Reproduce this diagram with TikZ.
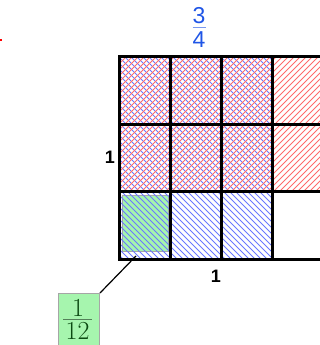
\documentclass[tikz,border=0pt]{standalone}
\usepackage{fontspec}
\setmainfont{Liberation Sans}
\newfontfamily\fracfont{Latin Modern Roman}
\definecolor{hatchred}{HTML}{FF6A6A}
\definecolor{hatchblue}{HTML}{6A78FF}
\definecolor{lightgreen}{HTML}{A6F5AE}
\definecolor{darkgreen}{HTML}{0B4A12}
\definecolor{fracblue}{HTML}{1F55E6}
\tikzset{
  gridline/.style={line width=3pt, line cap=rect},
  redhatch/.style={hatchred, line width=1pt},
  bluehatch/.style={hatchblue, line width=1pt},
  greencell/.style={fill=lightgreen, draw=gray!70, line width=1pt, inner sep=0pt, anchor=south west},
  fracbox/.style={fill=lightgreen, draw=gray!70, line width=1pt, anchor=north west, inner sep=0pt, minimum width=41pt, minimum height=60pt},
  greentext/.style={text=darkgreen, font=\fracfont\fontsize{26}{28}\selectfont, inner sep=0pt},
  bluetext/.style={text=fracblue, font=\fontsize{23}{25}\selectfont, inner sep=0pt},
  sidelabel/.style={font=\bfseries\fontsize{18}{20}\selectfont, inner sep=0pt}
}
\begin{document}
\begin{tikzpicture}[x=1pt,y=1pt]
\clip (0,0) rectangle (320,345);
\fill[red] (0,304) rectangle (1.5,306);
% green 1/12 cell
\node[greencell, minimum width=46pt, minimum height=56pt] (g) at (122,93) {};
% blue hatch: 3/4 of width, full height
\begin{scope}
\clip (119,85) rectangle (272,288);
\foreach \k in {0,...,65} {
  \draw[bluehatch] ({119-210+\k*6},288) -- ++(210,-210);
}
\end{scope}
% red hatch: 2/3 of height, full width
\begin{scope}
\clip (119,153) rectangle (330,288);
\foreach \k in {0,...,60} {
  \draw[redhatch] ({119-140+\k*6},153) -- ++(140,140);
}
\end{scope}
% label box and connector
\node[fracbox] (f) at (58,52) {};
\node[greentext] (fn) at (78,37) {1};
\node[greentext] (fd) at (77.5,14) {12};
\draw[darkgreen!70, line width=0.7pt] (63,26) -- (92,26);
\coordinate (tip) at (136,89);
\draw[line width=1.2pt] (f.north east) -- (tip);
% grid
\draw[gridline] (119,85) -- (119,288);
\draw[gridline] (170,85) -- (170,288);
\draw[gridline] (221,85) -- (221,288);
\draw[gridline] (272,85) -- (272,288);
\draw[gridline] (323,85) -- (323,288);
\draw[gridline] (119,288) -- (340,288);
\draw[gridline] (119,220) -- (340,220);
\draw[gridline] (119,153) -- (340,153);
\draw[gridline] (119,85) -- (340,85);
% labels
\node[sidelabel] (l1) at (110,188) {1};
\node[sidelabel] (l2) at (216,69) {1};
\node[bluetext] (qn) at (199,329) {3};
\node[bluetext] (qd) at (199,305) {4};
\draw[fracblue!60, line width=0.7pt] (192.5,317.5) -- (205.5,317.5);
\end{tikzpicture}
\end{document}
